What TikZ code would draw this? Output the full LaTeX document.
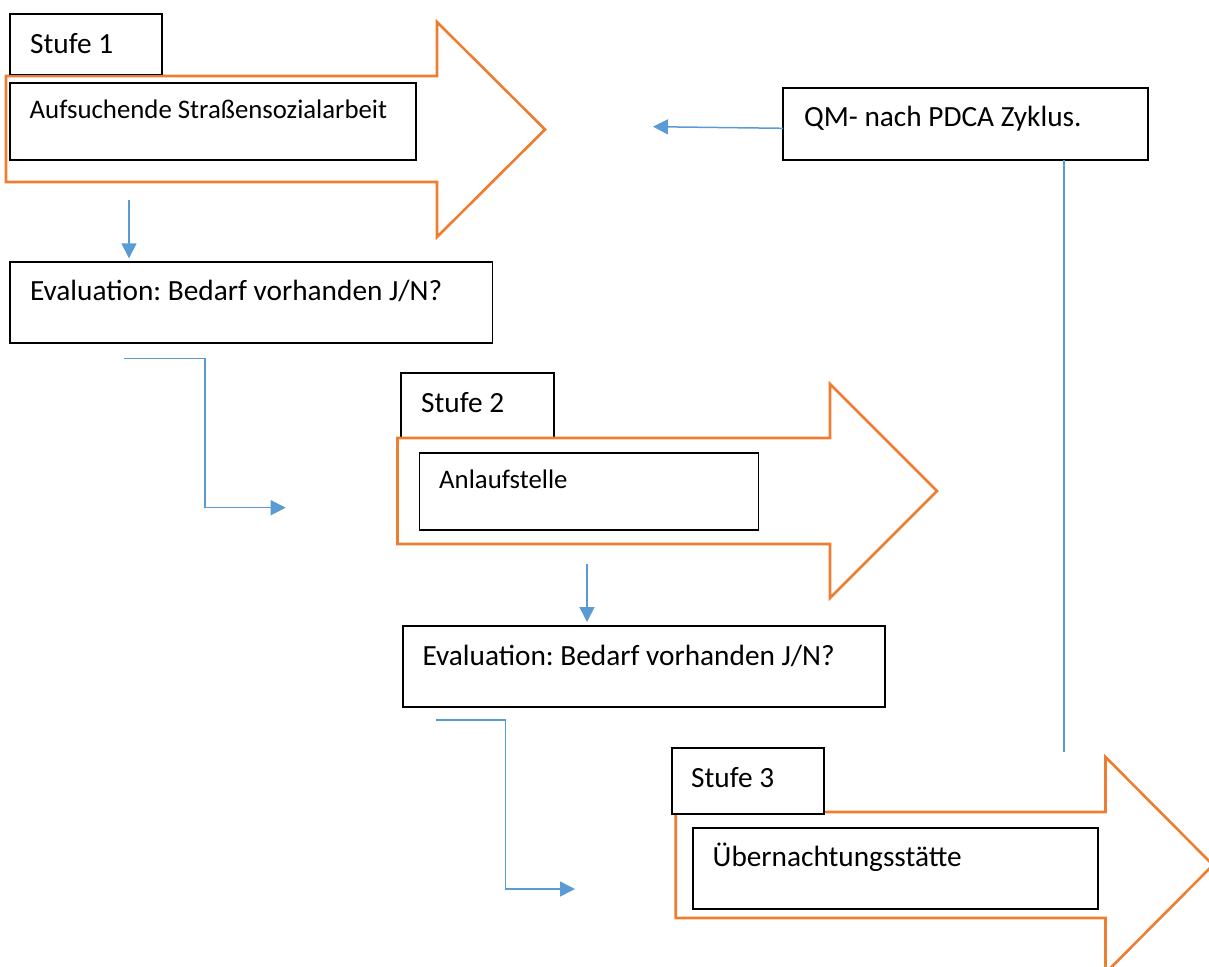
\documentclass[tikz,border=0pt]{standalone}
\usepackage{fontspec}
\setmainfont{Carlito}
\usetikzlibrary{arrows.meta}
\definecolor{worange}{HTML}{ED7D31}
\definecolor{wblue}{HTML}{5B9BD5}
\frenchspacing
\begin{document}
\begin{tikzpicture}[x=1pt,y=-1pt,
  box/.style={draw=black,line width=1.9pt,fill=white,anchor=north west,inner sep=0pt,outer sep=0pt},
  bigarrow/.style={draw=worange,line width=2.6pt,fill=white,line join=miter},
  conn/.style={draw=wblue,line width=1.5pt,-{Triangle[length=15pt,width=15pt]}},
  plainconn/.style={draw=wblue,line width=1.6pt},
  txt/.style={anchor=base west,inner sep=0pt,font=\fontsize{29.3}{34}\selectfont},
  smalltxt/.style={anchor=base west,inner sep=0pt,font=\fontsize{26.8}{32}\selectfont}]
\useasboundingbox (0,0) rectangle (1209,966);
\clip (0,0) rectangle (1209,966);

% ---- Stufe 1
\draw[bigarrow] (6,76) -- (437,76) -- (437,22) -- (545,129.5) -- (437,237) -- (437,182) -- (6,182) -- cycle;
\node[box,minimum width=152.3pt,minimum height=60.5pt] (s1) at (9.7,14) {};
\node[txt] (s1t) at (30,53) {Stufe 1};
\node[box,minimum width=406.3pt,minimum height=77pt] (aufs) at (9.7,83) {};
\node[smalltxt] (aufst) at (29.5,118) {Aufsuchende Straßensozialarbeit};

\node[box,minimum width=482.8pt,minimum height=81pt] (ev1) at (9.7,262) {};
\node[txt] (ev1t) at (29.8,300) {Evaluation: Bedarf vorhanden J/N?};

% ---- QM
\node[box,minimum width=365pt,minimum height=72pt] (qm) at (783,88) {};
\node[txt] (qmt) at (804,126) {QM- nach PDCA Zyklus.};

% ---- Stufe 2
\node[box,minimum width=153pt,minimum height=65pt] (s2) at (401,373) {};
\draw[bigarrow] (397.5,438) -- (830,438) -- (830,384) -- (937,491) -- (830,598) -- (830,544) -- (397.5,544) -- cycle;
\node[txt] (s2t) at (421,412) {Stufe 2};
\node[box,minimum width=339pt,minimum height=77pt] (anl) at (419.5,453) {};
\node[smalltxt] (anlt) at (439,488) {Anlaufstelle};

\node[box,minimum width=482.4pt,minimum height=81pt] (ev2) at (402.6,626) {};
\node[txt] (ev2t) at (422.3,665) {Evaluation: Bedarf vorhanden J/N?};

% ---- Stufe 3
\draw[bigarrow] (675.7,812) -- (1105.5,812) -- (1105.5,757) -- (1213,865) -- (1105.5,973) -- (1105.5,918) -- (675.7,918) -- cycle;
\node[box,minimum width=152pt,minimum height=66pt] (s3) at (671.6,748) {};
\node[txt] (s3t) at (691,787) {Stufe 3};
\node[box,minimum width=404.7pt,minimum height=81pt] (ueb) at (693,828) {};
\node[txt] (uebt) at (712.5,866) {Übernachtungsstätte};

% ---- connectors
\coordinate (c1s) at (129,200);
\coordinate (c1e) at (129,258.3);
\draw[conn] (c1s) -- (c1e);

\coordinate (qmout) at (783,128.3);
\coordinate (qmtip) at (653,126.7);
\draw[conn] (qmout) -- (qmtip);

\coordinate (qmdown) at (1063.7,160);
\coordinate (qmend) at (1063.7,752);
\draw[plainconn] (qmdown) -- (qmend);

\coordinate (e1s) at (124,358.7);
\coordinate (e1m) at (205,358.7);
\coordinate (e1e) at (285.7,507.7);
\draw[conn] (e1s) -- (e1m) |- (e1e);

\coordinate (c2s) at (587,564);
\coordinate (c2e) at (587,622);
\draw[conn] (c2s) -- (c2e);

\coordinate (e2s) at (436,720);
\coordinate (e2m) at (505.7,720);
\coordinate (e2e) at (575,889);
\draw[conn] (e2s) -- (e2m) |- (e2e);
\end{tikzpicture}
\end{document}
